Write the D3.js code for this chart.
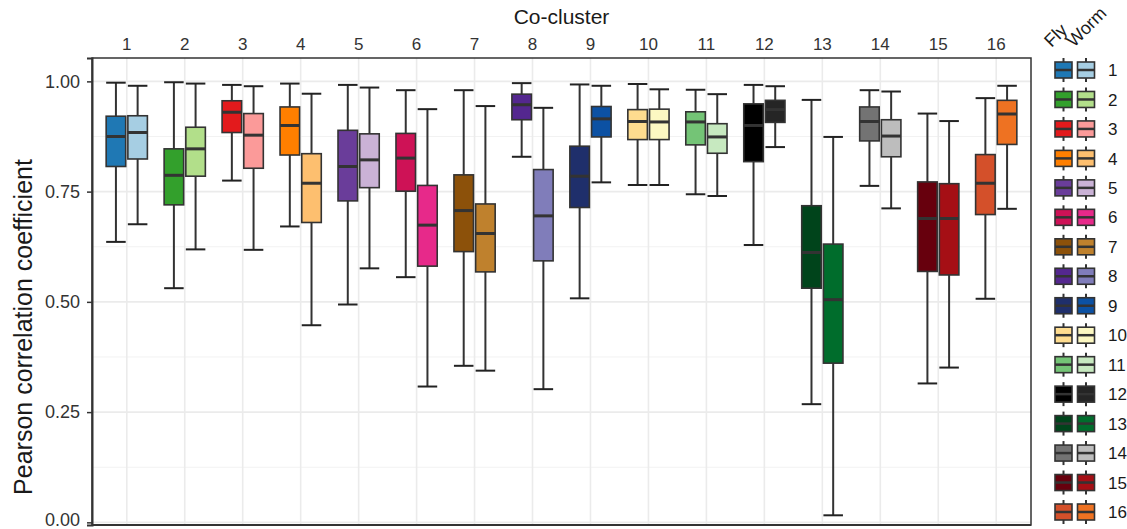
<!DOCTYPE html>
<html>
<head>
<meta charset="utf-8">
<script src="https://cdn.jsdelivr.net/npm/d3@7"></script>
<style>
  html, body { margin: 0; padding: 0; background: #fff; }
  svg { display: block; font-family: "Liberation Sans", Arial, sans-serif; }
</style>
</head>
<body>
<div id="chart"></div>
<script>
const clusters = ["1", "2", "3", "4", "5", "6", "7", "8", "9", "10", "11", "12", "13", "14", "15", "16"];
const species = ["Fly", "Worm"];
const yTicks = [0, 0.25, 0.5, 0.75, 1];
const yMinor = [0.125, 0.375, 0.625, 0.875];

// [lower whisker, q1, median, q3, upper whisker]
const flyBoxes = [
  [0.636, 0.807, 0.875, 0.921, 0.997],
  [0.531, 0.720, 0.787, 0.847, 0.998],
  [0.775, 0.884, 0.930, 0.956, 0.992],
  [0.671, 0.833, 0.900, 0.942, 0.995],
  [0.494, 0.729, 0.807, 0.889, 0.992],
  [0.556, 0.751, 0.826, 0.882, 0.980],
  [0.355, 0.614, 0.707, 0.788, 0.980],
  [0.829, 0.913, 0.947, 0.971, 0.996],
  [0.508, 0.714, 0.785, 0.853, 0.993],
  [0.765, 0.868, 0.909, 0.936, 0.994],
  [0.744, 0.856, 0.908, 0.931, 0.981],
  [0.629, 0.818, 0.900, 0.949, 0.992],
  [0.268, 0.531, 0.612, 0.718, 0.958],
  [0.763, 0.865, 0.909, 0.942, 0.980],
  [0.315, 0.569, 0.689, 0.772, 0.927],
  [0.507, 0.698, 0.769, 0.834, 0.962]
];

const wormBoxes = [
  [0.676, 0.824, 0.884, 0.922, 0.990],
  [0.619, 0.785, 0.847, 0.896, 0.995],
  [0.618, 0.803, 0.878, 0.927, 0.989],
  [0.447, 0.680, 0.769, 0.836, 0.972],
  [0.576, 0.759, 0.822, 0.881, 0.986],
  [0.308, 0.581, 0.674, 0.764, 0.937],
  [0.344, 0.568, 0.655, 0.722, 0.944],
  [0.302, 0.593, 0.695, 0.800, 0.940],
  [0.771, 0.874, 0.915, 0.943, 0.990],
  [0.765, 0.868, 0.908, 0.937, 0.982],
  [0.740, 0.837, 0.874, 0.904, 0.971],
  [0.851, 0.907, 0.936, 0.957, 0.989],
  [0.016, 0.361, 0.505, 0.631, 0.874],
  [0.712, 0.829, 0.876, 0.913, 0.977],
  [0.351, 0.561, 0.689, 0.768, 0.910],
  [0.711, 0.857, 0.926, 0.957, 0.990]
];

const flyColors = ["#1f78b4", "#33a02c", "#e31a1c", "#ff7f00", "#6a3d9a", "#ce1256", "#8c510a", "#54278f",
  "#1f2f6b", "#fedc8f", "#74c476", "#000000", "#00441b", "#737373", "#67000d", "#d4502a"];
const wormColors = ["#a6cee3", "#b2df8a", "#fb9a99", "#fdbf6f", "#cab2d6", "#e7298a", "#bf812d", "#807dba",
  "#0c51a3", "#fcf8c2", "#c7e9c0", "#252525", "#006d2c", "#bdbdbd", "#a50f15", "#ee7222"];

const width = 1127;
const height = 529;
const panel = { left: 92, right: 1031, top: 58, bottom: 525 };

const svg = d3.select("#chart")
  .append("svg")
  .attr("width", width)
  .attr("height", height);

const x = d3.scaleBand()
  .domain(clusters)
  .range([panel.left, panel.right])
  .paddingInner(0)
  .paddingOuter(0.1);

const xSub = d3.scaleBand()
  .domain(species)
  .range([-21.7, 21.7]);

const y = d3.scaleLinear()
  .domain([-0.006, 1.053])
  .range([panel.bottom, panel.top]);

const boxWidth = xSub.bandwidth() * 0.9;
const center = (c) => x(c) + x.bandwidth() / 2;

// grid
const grid = svg.append("g");
grid.selectAll("line.minor")
  .data(yMinor)
  .join("line")
  .attr("class", "minor")
  .attr("x1", panel.left).attr("x2", panel.right)
  .attr("y1", (d) => y(d)).attr("y2", (d) => y(d))
  .attr("stroke", "#f2f2f2")
  .attr("stroke-width", 1);
grid.selectAll("line.major")
  .data(yTicks)
  .join("line")
  .attr("class", "major")
  .attr("x1", panel.left).attr("x2", panel.right)
  .attr("y1", (d) => y(d)).attr("y2", (d) => y(d))
  .attr("stroke", "#ebebeb")
  .attr("stroke-width", 1.6);
grid.selectAll("line.vert")
  .data(clusters)
  .join("line")
  .attr("class", "vert")
  .attr("x1", center).attr("x2", center)
  .attr("y1", panel.top).attr("y2", panel.bottom)
  .attr("stroke", "#ebebeb")
  .attr("stroke-width", 1.6);

// boxes
const rows = [];
clusters.forEach((c, i) => {
  rows.push({ cluster: c, sp: "Fly", stats: flyBoxes[i], fill: flyColors[i] });
  rows.push({ cluster: c, sp: "Worm", stats: wormBoxes[i], fill: wormColors[i] });
});

const boxes = svg.append("g")
  .selectAll("g")
  .data(rows)
  .join("g")
  .attr("transform", (d) => `translate(${center(d.cluster) + xSub(d.sp) + xSub.bandwidth() / 2},0)`);

boxes.append("line")
  .attr("y1", (d) => y(d.stats[0]))
  .attr("y2", (d) => y(d.stats[4]))
  .attr("stroke", "#333")
  .attr("stroke-width", 2);

boxes.selectAll("line.cap")
  .data((d) => [d.stats[0], d.stats[4]])
  .join("line")
  .attr("class", "cap")
  .attr("x1", -boxWidth / 2).attr("x2", boxWidth / 2)
  .attr("y1", (v) => y(v)).attr("y2", (v) => y(v))
  .attr("stroke", "#222")
  .attr("stroke-width", 2);

boxes.append("rect")
  .attr("x", -boxWidth / 2)
  .attr("width", boxWidth)
  .attr("y", (d) => y(d.stats[3]))
  .attr("height", (d) => y(d.stats[1]) - y(d.stats[3]))
  .attr("fill", (d) => d.fill)
  .attr("stroke", "#333")
  .attr("stroke-width", 1.6);

boxes.append("line")
  .attr("x1", -boxWidth / 2).attr("x2", boxWidth / 2)
  .attr("y1", (d) => y(d.stats[2])).attr("y2", (d) => y(d.stats[2]))
  .attr("stroke", "#333")
  .attr("stroke-width", 3);

// panel border
svg.append("rect")
  .attr("x", panel.left).attr("y", panel.top)
  .attr("width", panel.right - panel.left)
  .attr("height", panel.bottom - panel.top)
  .attr("fill", "none")
  .attr("stroke", "#333")
  .attr("stroke-width", 1.5);

// axes
const yAxis = svg.append("g")
  .attr("transform", `translate(${panel.left},0)`)
  .call(d3.axisLeft(y).tickValues(yTicks).tickFormat(d3.format(".2f")).tickSize(5).tickPadding(7));
yAxis.select(".domain").attr("stroke", "#333").attr("stroke-width", 2);
yAxis.selectAll(".tick line").attr("stroke", "#333").attr("stroke-width", 1.5);
yAxis.selectAll(".tick text")
  .attr("font-size", 18)
  .attr("fill", "#333")
  .attr("font-family", "Liberation Sans, Arial, sans-serif")
  .attr("dy", (d) => (d === 0 ? "0.18em" : "0.32em"));

const xAxis = svg.append("g")
  .attr("transform", `translate(0,${panel.top})`)
  .call(d3.axisTop(x).tickSize(0).tickPadding(8));
xAxis.select(".domain").remove();
xAxis.selectAll(".tick text").attr("font-size", 17).attr("fill", "#333").attr("font-family", "Liberation Sans, Arial, sans-serif");

svg.append("line")
  .attr("x1", panel.left).attr("x2", panel.right)
  .attr("y1", panel.bottom).attr("y2", panel.bottom)
  .attr("stroke", "#333")
  .attr("stroke-width", 2);

svg.append("text")
  .attr("x", (panel.left + panel.right) / 2)
  .attr("y", 24)
  .attr("text-anchor", "middle")
  .attr("font-size", 21)
  .attr("fill", "#1a1a1a")
  .text("Co-cluster");

svg.append("text")
  .attr("transform", "translate(32,327) rotate(-90)")
  .attr("text-anchor", "middle")
  .attr("font-size", 25)
  .attr("fill", "#1a1a1a")
  .text("Pearson correlation coefficient");

// legend
const legendY = d3.scalePoint().domain(clusters).range([70, 512]);
const legendX = { Fly: 1063.5, Worm: 1086 };
const keyW = 17;
const keyH = 16;

const legend = svg.append("g");
const keys = legend.selectAll("g")
  .data(rows)
  .join("g")
  .attr("transform", (d) => `translate(${legendX[d.sp]},${legendY(d.cluster)})`);

keys.append("line")
  .attr("y1", -keyH / 2 - 4).attr("y2", keyH / 2 + 4)
  .attr("stroke", "#333")
  .attr("stroke-width", 2);
keys.append("rect")
  .attr("x", -keyW / 2).attr("y", -keyH / 2)
  .attr("width", keyW).attr("height", keyH)
  .attr("fill", (d) => d.fill)
  .attr("stroke", "#333")
  .attr("stroke-width", 1.6);
keys.append("line")
  .attr("x1", -keyW / 2).attr("x2", keyW / 2)
  .attr("stroke", "#333")
  .attr("stroke-width", 2.5);

legend.selectAll("text.lab")
  .data(clusters)
  .join("text")
  .attr("class", "lab")
  .attr("x", 1108)
  .attr("y", (d) => legendY(d))
  .attr("dy", "0.36em")
  .attr("font-size", 17)
  .attr("fill", "#1a1a1a")
  .text((d) => d);

legend.selectAll("text.head")
  .data(species)
  .join("text")
  .attr("class", "head")
  .attr("transform", (d) => `translate(${legendX[d] - 12},48) rotate(-45)`)
  .attr("font-size", 18)
  .attr("fill", "#1a1a1a")
  .text((d) => d);
</script>
</body>
</html>
